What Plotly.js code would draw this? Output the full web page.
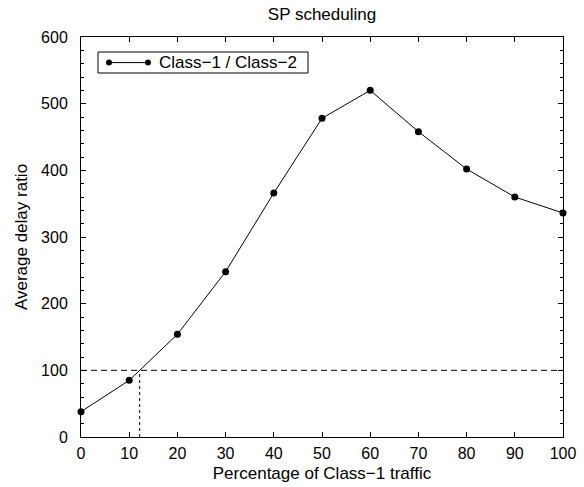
<!DOCTYPE html>
<html>
<head>
<meta charset="utf-8">
<script src="https://cdn.plot.ly/plotly-3.0.1.min.js"></script>
<style>html,body{margin:0;padding:0;background:#fff;}#chart{width:584px;height:487px;}</style>
</head>
<body>
<div id="chart"></div>
<script>
const percentClass1 = [0, 10, 20, 30, 40, 50, 60, 70, 80, 90, 100];
const delayRatio = [38, 85, 154, 248, 366, 478, 520, 458, 402, 360, 336];
const seriesName = "Class\u22121 / Class\u22122";
const threshold = 100;
const xTicks = [0, 10, 20, 30, 40, 50, 60, 70, 80, 90, 100];
const yTicks = [0, 100, 200, 300, 400, 500, 600];

// x where the curve crosses the threshold (linear interpolation between data points)
let crossX = null;
for (let i = 1; i < percentClass1.length; i++) {
  if (delayRatio[i - 1] < threshold && delayRatio[i] >= threshold) {
    const t = (threshold - delayRatio[i - 1]) / (delayRatio[i] - delayRatio[i - 1]);
    crossX = percentClass1[i - 1] + t * (percentClass1[i] - percentClass1[i - 1]);
    break;
  }
}

const font = "Liberation Sans, Arial, Helvetica, sans-serif";

const trace = {
  x: percentClass1, y: delayRatio, name: seriesName,
  type: "scatter", mode: "lines+markers",
  line: {color: "#000", width: 1},
  marker: {color: "#000", size: 7},
  showlegend: false, cliponaxis: false
};

const lgY = 0.936, lgX0 = 0.0581, lgX1 = 0.139, mrx = 0.0062, mry = 0.0075;
const shapes = [
  {type: "line", xref: "paper", yref: "y", x0: 0, x1: 1, y0: threshold, y1: threshold,
   line: {color: "#000", width: 1, dash: "6px,4px"}},
  {type: "line", xref: "x", yref: "y", x0: crossX, x1: crossX, y0: 0, y1: threshold,
   line: {color: "#000", width: 1, dash: "dot"}},
  // legend box
  {type: "rect", xref: "paper", yref: "paper", x0: 0.0353, x1: 0.471, y0: 0.91, y1: 0.9625,
   line: {color: "#000", width: 1}, fillcolor: "#fff"},
  {type: "line", xref: "paper", yref: "paper", x0: lgX0, x1: lgX1, y0: lgY, y1: lgY,
   line: {color: "#000", width: 1}},
  {type: "circle", xref: "paper", yref: "paper", x0: lgX0 - mrx, x1: lgX0 + mrx,
   y0: lgY - mry, y1: lgY + mry, line: {color: "#000", width: 0}, fillcolor: "#000"},
  {type: "circle", xref: "paper", yref: "paper", x0: lgX1 - mrx, x1: lgX1 + mrx,
   y0: lgY - mry, y1: lgY + mry, line: {color: "#000", width: 0}, fillcolor: "#000"}
];

const annotations = [
  {xref: "paper", yref: "paper", x: 0.158, y: lgY, xanchor: "left", yanchor: "middle",
   text: seriesName, showarrow: false, font: {family: font, size: 17, color: "#000"}}
];

const axisCommon = {
  showline: true, linecolor: "#000", linewidth: 1, mirror: "ticks",
  ticks: "inside", ticklen: 5, tickcolor: "#000", tickwidth: 1,
  showgrid: false, zeroline: false,
  tickfont: {family: font, size: 16, color: "#000"}
};

const layout = {
  width: 584, height: 487,
  margin: {l: 81, r: 21, t: 37, b: 50},
  paper_bgcolor: "#fff", plot_bgcolor: "#fff",
  title: {text: "SP scheduling", font: {family: font, size: 17, color: "#000"},
          x: 0.5, xref: "paper", yref: "container", y: 1 - 14 / 487, yanchor: "middle"},
  xaxis: Object.assign({}, axisCommon, {
    range: [0, 100], tickvals: xTicks, ticktext: xTicks.map(String),
    ticklabelstandoff: 2,
    title: {text: "Percentage of Class\u22121 traffic", font: {family: font, size: 17, color: "#000"}, standoff: 5}
  }),
  yaxis: Object.assign({}, axisCommon, {
    range: [0, 600], tickvals: yTicks, ticktext: yTicks.map(String),
    ticklabelstandoff: 9,
    minor: {dtick: 20, ticks: "inside", ticklen: 3, tickcolor: "#000", showgrid: false},
    title: {text: "Average delay ratio", font: {family: font, size: 17, color: "#000"}, standoff: 9}
  }),
  shapes: shapes,
  annotations: annotations,
  showlegend: false
};

Plotly.newPlot("chart", [trace], layout, {displayModeBar: false, staticPlot: true});
</script>
</body>
</html>
